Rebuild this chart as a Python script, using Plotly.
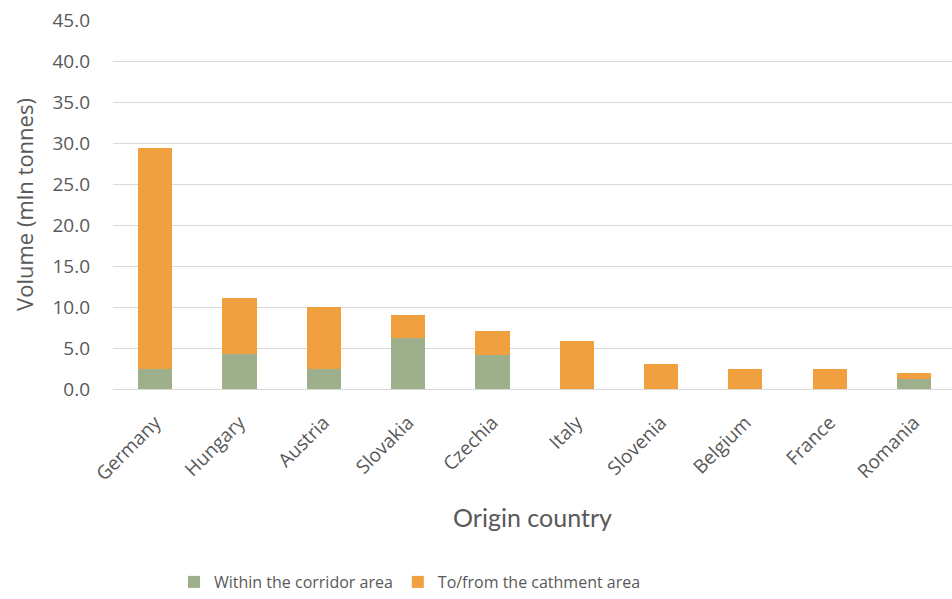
import plotly.graph_objects as go

# Freight volume by origin country (mln tonnes)
countries = ["Germany", "Hungary", "Austria", "Slovakia", "Czechia",
             "Italy", "Slovenia", "Belgium", "France", "Romania"]
within_corridor = [2.4, 4.3, 2.4, 6.2, 4.1, 0.0, 0.0, 0.0, 0.0, 1.2]
totals = [29.4, 11.1, 10.0, 9.0, 7.1, 5.9, 3.0, 2.4, 2.4, 2.0]
catchment = [round(t - w, 2) for t, w in zip(totals, within_corridor)]

y_ticks = [0, 5, 10, 15, 20, 25, 30, 35, 40, 45]

GREEN = "#9DB08B"
ORANGE = "#F0A03F"
TEXT = "#595959"
GRID = "#D9D9D9"

fig = go.Figure()
fig.add_trace(go.Bar(x=countries, y=within_corridor, name="Within the corridor area",
                     marker=dict(color=GREEN, line=dict(width=0))))
fig.add_trace(go.Bar(x=countries, y=catchment, name="To/from the cathment area",
                     marker=dict(color=ORANGE, line=dict(width=0))))

fig.update_layout(
    barmode="stack",
    bargap=0.595,
    width=952, height=599,
    margin=dict(l=113, r=0, t=20, b=210),
    paper_bgcolor="white",
    plot_bgcolor="white",
    font=dict(family="Open Sans", color=TEXT, size=15),
    xaxis=dict(
        range=[-0.5, 9.45],
        tickangle=-45,
        tickfont=dict(family="Open Sans", size=19, color=TEXT),
        ticklabelstandoff=14,
        showgrid=False,
        showline=True, linecolor=GRID, linewidth=1,
        ticks="",
        title=dict(text="Origin country", font=dict(family="Lato", size=25, color=TEXT),
                   standoff=24),
    ),
    yaxis=dict(
        range=[0, 45],
        tickvals=y_ticks,
        tickformat=".1f",
        tickfont=dict(family="Open Sans", size=19, color=TEXT),
        showgrid=True, gridcolor=GRID, gridwidth=1,
        zeroline=False,
        ticks="",
        ticklabelstandoff=22,
        title=dict(text="Volume (mln tonnes)", font=dict(family="Open Sans", size=22, color=TEXT),
                   standoff=12),
    ),
    legend=dict(
        orientation="h",
        x=0.354, xanchor="center",
        y=-0.523, yanchor="middle",
        font=dict(family="Open Sans", size=16, color=TEXT),
        itemwidth=30,
        traceorder="normal",
    ),
)

fig.write_html("out.html")
